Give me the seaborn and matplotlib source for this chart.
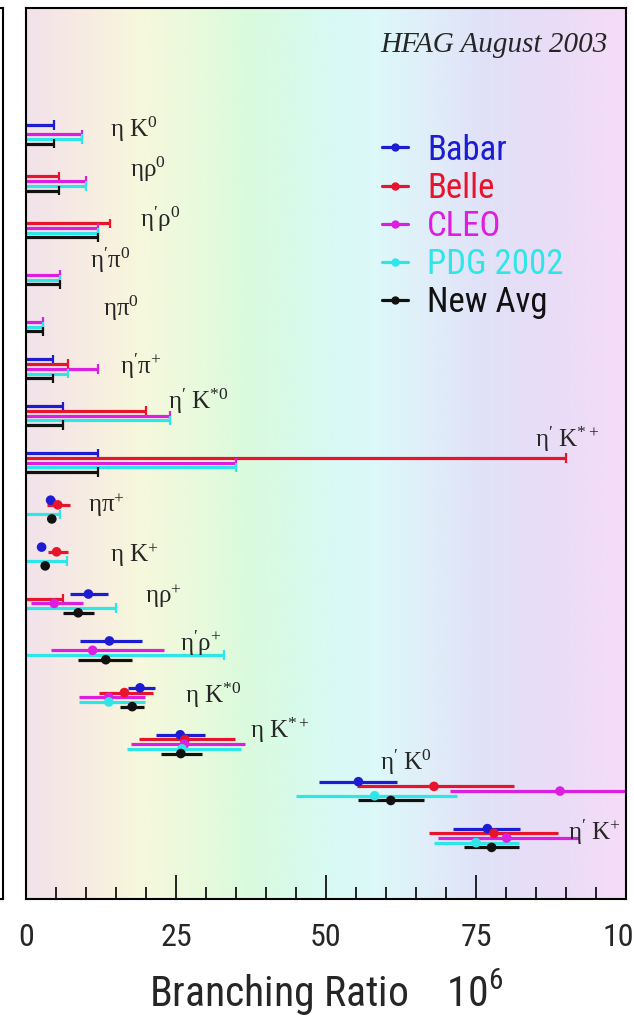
import numpy as np
import pandas as pd
import matplotlib
matplotlib.use("Agg")
import matplotlib.pyplot as plt
from matplotlib import font_manager as fm
from matplotlib.colors import LinearSegmentedColormap
from matplotlib.lines import Line2D
import seaborn as sns

nan = np.nan

# Decay modes, top to bottom
modes = [
    r"$\eta\ K^{0}$", r"$\eta\rho^{0}$", r"$\eta^{\prime}\rho^{0}$", r"$\eta^{\prime}\pi^{0}$",
    r"$\eta\pi^{0}$", r"$\eta^{\prime}\pi^{+}$", r"$\eta^{\prime}\ K^{*0}$", r"$\eta^{\prime}\ K^{*+}$",
    r"$\eta\pi^{+}$", r"$\eta\ K^{+}$", r"$\eta\rho^{+}$", r"$\eta^{\prime}\rho^{+}$",
    r"$\eta\ K^{*0}$", r"$\eta\ K^{*+}$", r"$\eta^{\prime}\ K^{0}$", r"$\eta^{\prime}\ K^{+}$",
]

experiments = ["Babar", "Belle", "CLEO", "PDG 2002", "New Avg"]

# Branching ratios (x 10^-6): central value, minus error, plus error, upper limit
babar_val = [nan, nan, nan, nan, nan, nan, nan, nan, 4.1, 2.6, 10.4, 13.9, 19.0, 25.7, 55.4, 76.9]
babar_lo  = [nan, nan, nan, nan, nan, nan, nan, nan, 0.8, 0.5, 3.1, 4.9, 2.0, 4.0, 6.5, 5.7]
babar_hi  = [nan, nan, nan, nan, nan, nan, nan, nan, 0.8, 0.5, 3.3, 5.4, 2.5, 4.1, 6.5, 5.5]
babar_ul  = [4.6, nan, nan, nan, nan, 4.5, 6.2, 12.0, nan, nan, nan, nan, nan, nan, nan, nan]

belle_val = [nan, nan, nan, nan, nan, nan, nan, nan, 5.3, 5.1, nan, nan, 16.4, 26.5, 68.0, 78.0]
belle_lo  = [nan, nan, nan, nan, nan, nan, nan, nan, 1.8, 1.4, nan, nan, 4.3, 7.6, 12.8, 10.8]
belle_hi  = [nan, nan, nan, nan, nan, nan, nan, nan, 2.0, 1.9, nan, nan, 4.8, 8.3, 13.4, 10.7]
belle_ul  = [nan, 5.5, 14.0, nan, nan, 7.0, 20.0, 90.0, nan, nan, 6.2, nan, nan, nan, nan, nan]

cleo_val = [nan, nan, nan, nan, nan, nan, nan, nan, nan, nan, 4.7, 11.1, 13.8, 26.4, 89.0, 80.1]
cleo_lo  = [nan, nan, nan, nan, nan, nan, nan, nan, nan, nan, 3.8, 7.0, 5.0, 8.9, 18.3, 11.5]
cleo_hi  = [nan, nan, nan, nan, nan, nan, nan, nan, nan, nan, 4.8, 11.9, 6.1, 10.1, 18.0, 12.0]
cleo_ul  = [9.3, 10.0, 12.0, 5.7, 2.9, 12.0, 24.0, 35.0, nan, nan, nan, nan, nan, nan, nan, nan]

pdg_val = [nan, nan, nan, nan, nan, nan, nan, nan, nan, nan, nan, nan, 13.8, 26.0, 58.1, 75.0]
pdg_lo  = [nan, nan, nan, nan, nan, nan, nan, nan, nan, nan, nan, nan, 5.0, 9.1, 13.1, 7.0]
pdg_hi  = [nan, nan, nan, nan, nan, nan, nan, nan, nan, nan, nan, nan, 6.1, 9.9, 13.7, 7.1]
pdg_ul  = [9.3, 10.0, 12.0, 5.7, 2.9, 7.0, 24.0, 35.0, 5.7, 6.8, 15.0, 33.0, nan, nan, nan, nan]

avg_val = [nan, nan, nan, nan, nan, nan, nan, nan, 4.3, 3.2, 8.7, 13.3, 17.7, 25.8, 60.8, 77.6]
avg_lo  = [nan, nan, nan, nan, nan, nan, nan, nan, 0.5, 0.5, 2.5, 4.6, 2.0, 3.3, 5.5, 4.6]
avg_hi  = [nan, nan, nan, nan, nan, nan, nan, nan, 0.5, 0.5, 2.7, 4.4, 2.0, 3.5, 5.5, 4.6]
avg_ul  = [4.6, 5.5, 12.0, 5.7, 2.9, 4.5, 6.2, 12.0, nan, nan, nan, nan, nan, nan, nan, nan]

x_ticks = [0, 25, 50, 75, 100]
x_ticklabels = ["0", "25", "50", "75", "100"]

# ---- styling / layout ----
palette = {"Babar": "#1c1cd2", "Belle": "#e8142c", "CLEO": "#dc1ee0",
           "PDG 2002": "#2ee6e8", "New Avg": "#111111"}
slot = {"Babar": -0.2, "Belle": -0.1, "CLEO": 0.0, "PDG 2002": 0.1, "New Avg": 0.2}

# label anchor (x in data units, y shift in rows) for each mode name
label_pos = [(14.0, -0.10), (17.3, -0.26), (19.0, -0.19), (10.7, -0.32),
             (12.8, -0.28), (15.7, -0.06), (23.7, -0.30), (84.8, -0.49),
             (10.3, -0.10), (14.0, -0.02), (19.8, -0.15), (25.7, -0.15),
             (26.5, -0.04), (37.3, -0.30), (59.0, -0.62), (90.3, -0.13)]

series = {
    "Babar": (babar_val, babar_lo, babar_hi, babar_ul),
    "Belle": (belle_val, belle_lo, belle_hi, belle_ul),
    "CLEO": (cleo_val, cleo_lo, cleo_hi, cleo_ul),
    "PDG 2002": (pdg_val, pdg_lo, pdg_hi, pdg_ul),
    "New Avg": (avg_val, avg_lo, avg_hi, avg_ul),
}

rows = []
for exp in experiments:
    val, lo, hi, ul = series[exp]
    for i in range(len(modes)):
        rows.append(dict(mode=i, exp=exp, val=val[i], lo=lo[i], hi=hi[i], ul=ul[i],
                         y=i + slot[exp]))
df = pd.DataFrame(rows)

sns.set_theme(style="white")


def narrow_sans():
    """Pick an installed condensed sans-serif face, regular weight and upright."""
    wanted = ["liberation sans narrow", "roboto condensed", "dejavu sans condensed",
              "noto sans condensed", "open sans condensed", "liberation sans",
              "dejavu sans"]
    cands = []
    for f in fm.fontManager.ttflist:
        if f.style != "normal" or f.weight not in (400, "normal", "regular"):
            continue
        name = f.name.lower()
        stretch = str(f.stretch).lower()
        fname = f.fname.lower()
        key = name
        if ("condensed" in stretch or "condensed" in fname) and "condensed" not in name:
            key = name + " condensed"
        if "semi" in fname or "semi" in stretch or "extra" in fname or "ultra" in fname:
            continue
        if key in wanted:
            cands.append((wanted.index(key), f.fname, f.name))
    cands.sort()
    if cands:
        return cands[0][0] < 5, cands[0][1]
    return False, None


is_narrow, narrow_path = narrow_sans()
sans_fp = fm.FontProperties(fname=narrow_path) if narrow_path else fm.FontProperties(family="Liberation Sans")
sans_name = sans_fp.get_name()
plt.rcParams["font.family"] = [sans_name, "Liberation Sans", "DejaVu Sans"]
plt.rcParams["mathtext.default"] = "regular"
k = 1.0 if is_narrow else 0.82

fig = plt.figure(figsize=(6.34, 10.18), dpi=100)
fig.patch.set_facecolor("white")
ax_pos = [26 / 634, 1 - 899 / 1018, 600 / 634, 891 / 1018]
ax = fig.add_axes(ax_pos)

# neighbouring panel edge on the left
ax_nb = fig.add_axes([-0.5, ax_pos[1], 0.5 + 3 / 634, ax_pos[3]])
ax_nb.set_xticks([]); ax_nb.set_yticks([])
ax_nb.set_facecolor("white")
for s in ax_nb.spines.values():
    s.set_linewidth(1.5); s.set_color("black")

y_top, y_bot = -2.69, 16.30

# rainbow pastel background
stops = [(0.00, "#f2e2ea"), (0.12, "#f8eee0"), (0.19, "#f6f8dc"), (0.29, "#e8fadc"),
         (0.37, "#dafade"), (0.51, "#d8faf4"), (0.59, "#ddf8fa"), (0.67, "#e0eef8"),
         (0.76, "#e0e2f8"), (0.89, "#eadcf6"), (1.00, "#f6dcf8")]
bg = LinearSegmentedColormap.from_list("bg", stops)
ax.imshow(np.linspace(0, 1, 512)[None, :], cmap=bg, extent=[0, 100, y_bot, y_top],
          aspect="auto", zorder=0, interpolation="bilinear")

lw = 2.3
for exp in experiments:
    d = df[df.exp == exp]
    c = palette[exp]
    m = d.dropna(subset=["val"])
    ax.hlines(m.y, m.val - m.lo, m.val + m.hi, colors=c, lw=lw, zorder=2)
    u = d.dropna(subset=["ul"])
    ax.hlines(u.y, 0, u.ul, colors=c, lw=lw, zorder=2)
    ax.vlines(u.ul, u.y - 0.1, u.y + 0.1, colors=c, lw=1.6, zorder=2)

pts = df.dropna(subset=["val"])
sns.scatterplot(data=pts, x="val", y="y", hue="exp", palette=palette, s=48,
                edgecolor="none", legend=False, ax=ax, zorder=4)

for i, name in enumerate(modes):
    lx, dy = label_pos[i]
    ax.text(lx, i + dy, name, fontsize=18, family="Liberation Serif",
            math_fontfamily="stix", ha="left", va="center", zorder=5)

ax.set_xlim(0, 100)
ax.set_ylim(y_bot, y_top)
ax.set_yticks([])
ax.set_xticks(x_ticks)
ax.set_xticklabels(x_ticklabels)
ax.set_xticks(np.arange(0, 101, 5), minor=True)
ax.tick_params(axis="x", which="major", direction="in", length=17, width=1.2,
               labelsize=23 * k, pad=17, bottom=True, top=False, color="black")
ax.tick_params(axis="x", which="minor", direction="in", length=8.5, width=1.2,
               bottom=True, top=False, color="black")
ax.set_ylabel("")
ax.set_xlabel("Branching Ratio    10$^{6}$", fontsize=30 * k, labelpad=12)
for s in ax.spines.values():
    s.set_linewidth(1.5); s.set_color("black"); s.set_visible(True)

ax.text(0.97, 0.958, "HFAG August 2003", transform=ax.transAxes, ha="right", va="center",
        fontsize=21, family="Liberation Serif", style="italic", zorder=6)

handles = [Line2D([], [], color=palette[e], lw=lw, marker="o", ms=5) for e in experiments]
leg = ax.legend(handles, experiments, loc="upper left", bbox_to_anchor=(0.593, 0.859),
                frameon=False, fontsize=25 * k, handlelength=0.75 / k, handletextpad=0.55 / k,
                labelspacing=0.15 / k, borderpad=0, borderaxespad=0)
for t, e in zip(leg.get_texts(), experiments):
    t.set_color(palette[e])

fig.savefig("out.png", dpi=100)
